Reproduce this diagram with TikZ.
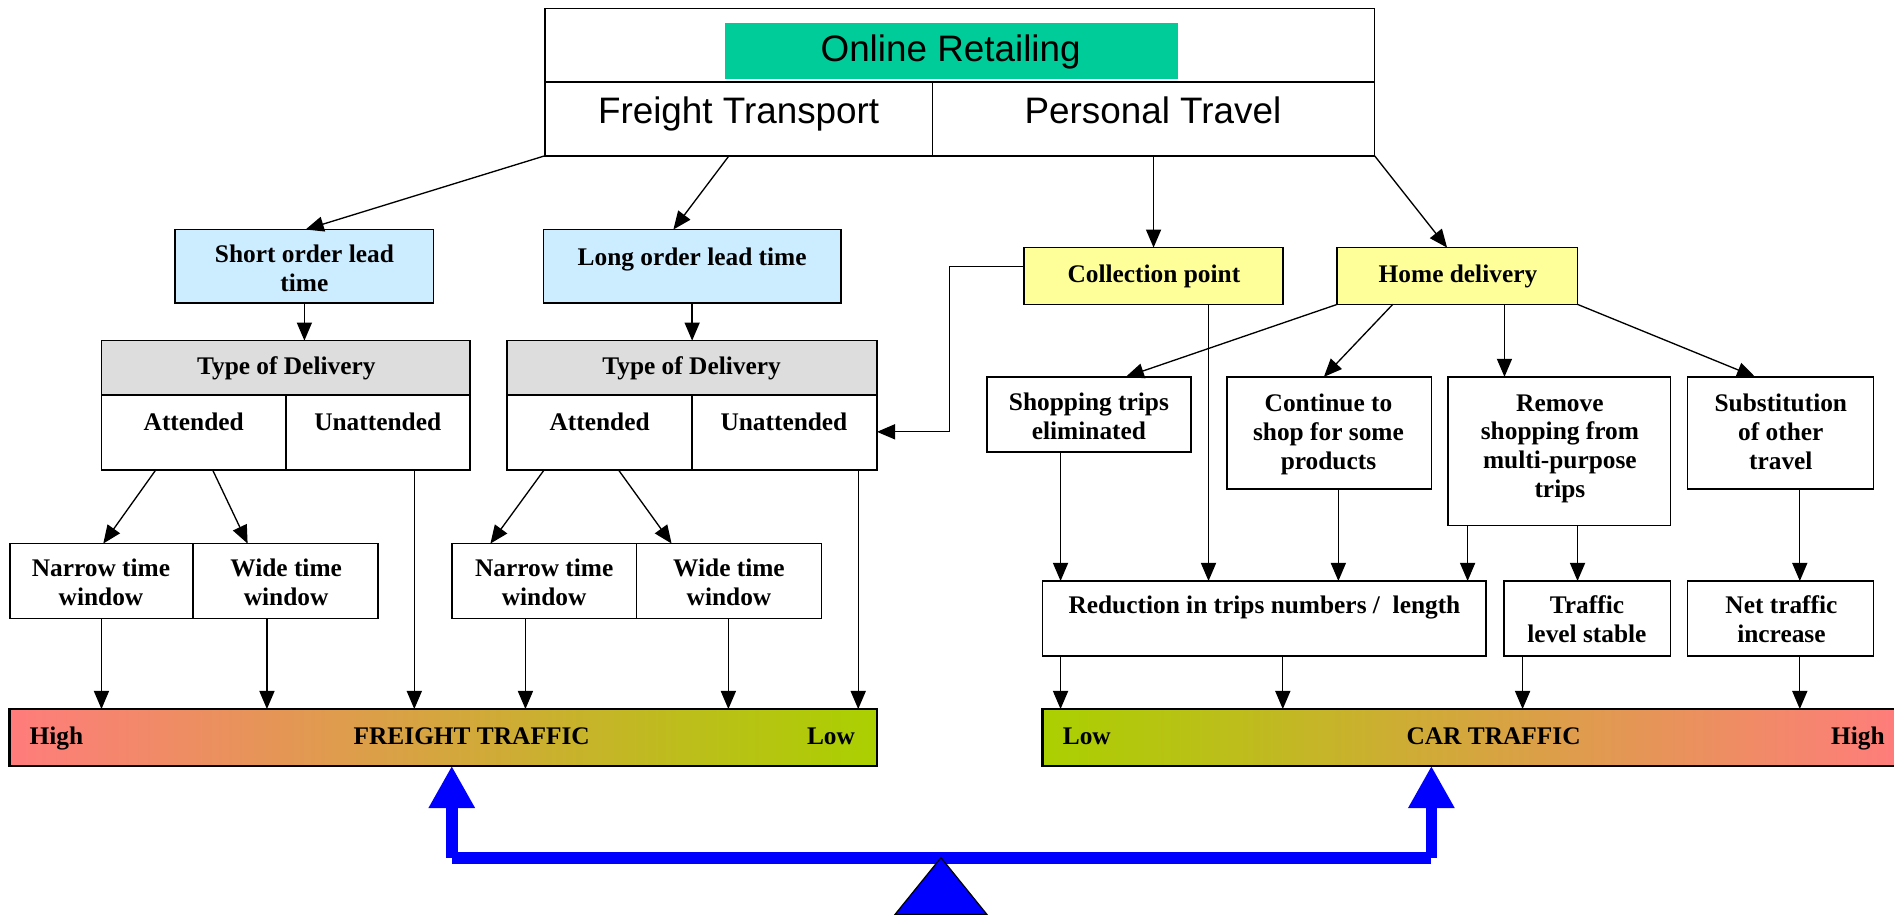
\documentclass[tikz,border=0pt]{standalone}
\usepackage{fontspec}
\setmainfont{Liberation Serif}
\newfontfamily\arialfam{Liberation Sans}
\usetikzlibrary{arrows.meta}
\definecolor{mintg}{HTML}{00CC99}
\definecolor{lblue}{HTML}{CCECFF}
\definecolor{lyellow}{HTML}{FFFF99}
\definecolor{lgray}{HTML}{DDDDDD}
\definecolor{barred}{HTML}{FF7C7C}
\definecolor{bargreen}{HTML}{AAD000}
\newcommand{\mkbox}[6]{%
  \pgfmathsetmacro{\mkbxc}{(#2+#4)/2}%
  \pgfmathsetmacro{\mkbyc}{(#3+#5)/2}%
  \pgfmathsetmacro{\mkbw}{#4-#2}%
  \pgfmathsetmacro{\mkbh}{#5-#3}%
  \node[box,#6,minimum width=\mkbw pt,minimum height=\mkbh pt] (#1) at (\mkbxc,\mkbyc) {};}
\begin{document}
\begin{tikzpicture}[x=1pt,y=-1pt,
  box/.style={draw,line width=1.4pt,inner sep=0pt,outer sep=0pt,rectangle},
  divl/.style={line width=1.4pt},
  lbl/.style={font=\fontsize{21}{23.8}\selectfont\bfseries,align=center,inner sep=0pt},
  big/.style={font=\arialfam\fontsize{30.5}{34}\selectfont,inner sep=0pt},
  con/.style={line width=1.1pt,-{Triangle[length=15pt,width=12.5pt]}},
  seesaw/.style={draw=blue,line width=10pt},
  post/.style={draw=blue,line width=9.5pt,-{Triangle[length=35pt,width=36pt]}}]
\useasboundingbox (0,0) rectangle (1568,757);

% ---- top box
\fill[mintg] (600,19) rectangle (975,65);
\mkbox{top}{451}{7}{1138}{129}{}
\draw[divl] (451,68) -- (1138,68);
\draw[divl] (772,68) -- (772,129);
\node[big,anchor=base] (tonline) at (787,51) {Online Retailing};
\node[big,anchor=base] (tfreight) at (611.5,102) {Freight Transport};
\node[big,anchor=base] (tpersonal) at (954.5,102) {Personal Travel};

% ---- lead time boxes
\mkbox{short}{145}{190}{359}{251}{fill=lblue}
\mkbox{long}{450}{190}{696}{251}{fill=lblue}
\node[lbl] (tshort) at (252,222) {Short order lead\\time};
\node[lbl,anchor=base] (tlong) at (573,219.4) {Long order lead time};

% ---- type of delivery boxes
\fill[lgray] (84,282) rectangle (389,327);
\mkbox{tod1}{84}{282}{389}{389}{}
\draw[divl] (84,327) -- (389,327);
\draw[divl] (237,327) -- (237,389);
\fill[lgray] (420,282) rectangle (726,327);
\mkbox{tod2}{420}{282}{726}{389}{}
\draw[divl] (420,327) -- (726,327);
\draw[divl] (573,327) -- (573,389);
\node[lbl,anchor=base] (ttod1) at (237,310.4) {Type of Delivery};
\node[lbl,anchor=base] (ttod2) at (572.5,310.4) {Type of Delivery};
\node[lbl,anchor=base] (tatt1) at (160.4,356) {Attended};
\node[lbl,anchor=base] (tuna1) at (312.7,356) {Unattended};
\node[lbl,anchor=base] (tatt2) at (496.4,356) {Attended};
\node[lbl,anchor=base] (tuna2) at (649,356) {Unattended};

% ---- time windows
\mkbox{nw1}{8}{450}{313}{512}{}
\draw[divl] (160,450) -- (160,512);
\mkbox{nw2}{374}{450}{680}{512}{}
\draw[divl] (527,450) -- (527,512);
\node[lbl] (tn1) at (83.6,482) {Narrow time\\window};
\node[lbl] (tw1) at (236.9,482) {Wide time\\window};
\node[lbl] (tn2) at (450.5,482) {Narrow time\\window};
\node[lbl] (tw2) at (603.5,482) {Wide time\\window};

% ---- collection / home
\mkbox{coll}{848}{205}{1062}{252}{fill=lyellow}
\mkbox{home}{1107}{205}{1306}{252}{fill=lyellow}
\node[lbl,anchor=base] (tcoll) at (955.3,234) {Collection point};
\node[lbl,anchor=base] (thome) at (1207,234) {Home delivery};

% ---- effects row
\mkbox{shop}{817}{312}{986}{374}{}
\mkbox{cont}{1016}{312}{1185}{405}{}
\mkbox{remv}{1199}{312}{1383}{435}{}
\mkbox{subs}{1397}{312}{1551}{405}{}
\node[lbl] (tshop) at (901.5,344.5) {Shopping trips\\eliminated};
\node[lbl] (tcont) at (1099.8,359.7) {Continue to\\shop for some\\products};
\node[lbl] (tremv) at (1291.4,371.4) {Remove\\shopping from\\multi-purpose\\trips};
\node[lbl] (tsubs) at (1474.3,357.5) {Substitution\\of other\\travel};

% ---- results row
\mkbox{redu}{863}{481}{1230}{543}{}
\mkbox{stab}{1245}{481}{1383}{543}{}
\mkbox{incr}{1397}{481}{1551}{543}{}
\node[lbl,anchor=base] (tredu) at (1046.8,507.7) {Reduction in trips numbers / \ length};
\node[lbl] (tstab) at (1313.8,512.4) {Traffic\\level stable};
\node[lbl] (tincr) at (1474.8,512.4) {Net traffic\\increase};

% ---- traffic bars
\mkbox{fbar}{8}{587}{726}{634}{line width=2pt,left color=barred,right color=bargreen}
\mkbox{cbar}{863}{587}{1575}{634}{line width=2pt,left color=bargreen,right color=barred}
\node[lbl,anchor=base west] (fhigh) at (24.3,616.2) {High};
\node[lbl,anchor=base] (ftraf) at (390.5,616.2) {FREIGHT TRAFFIC};
\node[lbl,anchor=base east] (flow) at (708,616.2) {Low};
\node[lbl,anchor=base west] (clow) at (879.7,616.2) {Low};
\node[lbl,anchor=base] (ctraf) at (1236.5,616.2) {CAR TRAFFIC};
\node[lbl,anchor=base east] (chigh) at (1560.4,616.2) {High};

% ---- connectors from top box
\draw[con] (top.south west) -- ([xshift=108pt]short.north west);
\draw[con] ([xshift=152.5pt]top.south west) -- ([xshift=107.5pt]long.north west);
\coordinate (pt) at ([xshift=504pt]top.south west);
\draw[con] (pt) -- (pt |- coll.north);
\draw[con] (top.south east) -- ([xshift=91pt]home.north west);

% ---- freight side
\draw[con] (short.south) -- (short.south |- tod1.north);
\draw[con] (long.south) -- (long.south |- tod2.north);
\draw[con] ([xshift=45pt]tod1.south west) -- ([xshift=77.5pt]nw1.north west);
\draw[con] ([xshift=92pt]tod1.south west) -- ([xshift=197pt]nw1.north west);
\draw[con] ([xshift=30.5pt]tod2.south west) -- ([xshift=32pt]nw2.north west);
\draw[con] ([xshift=92pt]tod2.south west) -- ([xshift=182pt]nw2.north west);
\coordinate (u1) at ([xshift=-46pt]tod1.south east);
\draw[con] (u1) -- (u1 |- fbar.north);
\coordinate (u2) at ([xshift=-15.5pt]tod2.south east);
\draw[con] (u2) -- (u2 |- fbar.north);
\coordinate (n1) at ([xshift=76pt]nw1.south west);
\draw[con] (n1) -- (n1 |- fbar.north);
\coordinate (w1) at ([xshift=213pt]nw1.south west);
\draw[con] (w1) -- (w1 |- fbar.north);
\coordinate (n2) at ([xshift=61pt]nw2.south west);
\draw[con] (n2) -- (n2 |- fbar.north);
\coordinate (w2) at ([xshift=229pt]nw2.south west);
\draw[con] (w2) -- (w2 |- fbar.north);

% ---- collection point
\coordinate (cw) at ([yshift=8pt]coll.west);
\coordinate (ce) at ([yshift=-22pt]tod2.east);
\draw[con] (cw) -- ([xshift=-62pt]cw) |- (ce);
\coordinate (cd) at ([xshift=45.5pt]coll.south);
\draw[con] (cd) -- (cd |- redu.north);

% ---- home delivery
\draw[con] (home.south west) -- ([xshift=115pt]shop.north west);
\draw[con] ([xshift=46pt]home.south west) -- ([xshift=80pt]cont.north west);
\coordinate (hd) at ([xshift=138.5pt]home.south west);
\draw[con] (hd) -- (hd |- remv.north);
\draw[con] (home.south east) -- ([xshift=56pt]subs.north west);

% ---- effects to results
\coordinate (s1) at ([xshift=61pt]shop.south west);
\draw[con] (s1) -- (s1 |- redu.north);
\coordinate (s2) at ([xshift=92pt]cont.south west);
\draw[con] (s2) -- (s2 |- redu.north);
\coordinate (s3) at ([xshift=16pt]remv.south west);
\draw[con] (s3) -- (s3 |- redu.north);
\coordinate (s4) at ([xshift=107pt]remv.south west);
\draw[con] (s4) -- (s4 |- stab.north);
\coordinate (s5) at ([xshift=93pt]subs.south west);
\draw[con] (s5) -- (s5 |- incr.north);

% ---- results to car bar
\coordinate (r1) at ([xshift=15pt]redu.south west);
\draw[con] (r1) -- (r1 |- cbar.north);
\coordinate (r2) at ([xshift=199pt]redu.south west);
\draw[con] (r2) -- (r2 |- cbar.north);
\coordinate (r3) at ([xshift=15.5pt]stab.south west);
\draw[con] (r3) -- (r3 |- cbar.north);
\coordinate (r4) at ([xshift=93pt]incr.south west);
\draw[con] (r4) -- (r4 |- cbar.north);

% ---- seesaw
\coordinate (pl) at (374,710);
\coordinate (pr) at (1185,710);
\draw[seesaw] (pl) -- (pr);
\draw[post] (pl) -- (pl |- fbar.south);
\draw[post] (pr) -- (pr |- cbar.south);
\filldraw[fill=blue,draw=black,line width=1pt] (741,757) -- (779,710) -- (817,757) -- cycle;
\end{tikzpicture}
\end{document}
